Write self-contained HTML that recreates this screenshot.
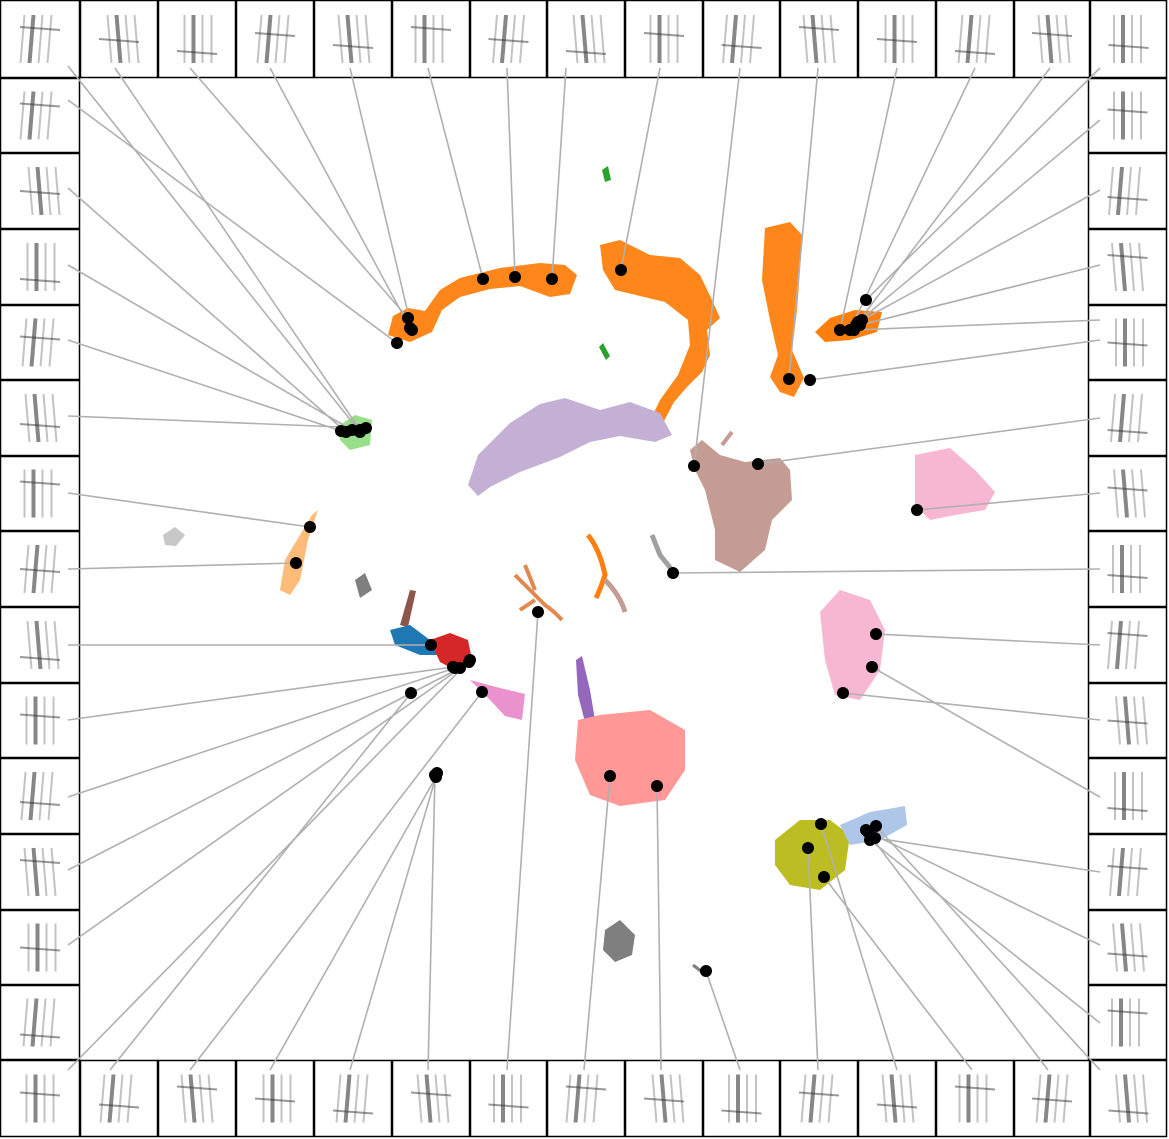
<!DOCTYPE html>
<html><head><meta charset="utf-8"><style>
html,body{margin:0;padding:0;background:#fff;}
svg{display:block;font-family:"Liberation Sans",sans-serif;}
</style></head><body>
<svg id="chart" width="1169" height="1139" viewBox="0 0 1169 1139" xmlns="http://www.w3.org/2000/svg">
<g id="clusters">
<polygon fill="#ff7f0e" opacity="0.95" points="388,335 393,316 408,308 425,311 440,290 460,278 500,268 540,263 565,265 577,275 570,294 550,297 520,286 490,289 460,297 442,310 432,332 410,342"/>
<polygon fill="#ff7f0e" opacity="0.95" points="600,245 620,240 650,255 680,258 700,275 712,300 720,318 707,330 710,355 702,372 687,387 674,402 662,425 648,425 660,400 678,375 690,345 688,320 665,302 640,296 615,290 603,270"/>
<polygon fill="#ff7f0e" opacity="0.95" points="765,228 790,222 802,235 800,270 797,310 792,350 804,378 794,397 780,392 770,377 778,355 770,320 762,280"/>
<polygon fill="#ff7f0e" points="815,332 830,318 855,310 882,312 877,332 850,340 825,342"/>
<polygon fill="#c5b0d5" points="468,485 478,455 510,423 540,404 565,398 600,410 630,402 660,413 672,435 655,442 620,436 590,442 560,457 520,472 490,487 478,496"/>
<polygon fill="#c49c94" points="690,450 702,440 720,455 745,462 780,458 790,470 792,500 772,520 765,550 740,572 715,560 715,530 705,490 695,470"/>
<polygon fill="#f7b6d2" points="915,455 950,448 975,470 995,492 985,510 955,515 930,520 915,505"/>
<polygon fill="#f7b6d2" points="820,612 840,590 870,600 885,630 880,670 860,700 835,695 825,660"/>
<polygon fill="#9467bd" points="576,660 582,656 590,690 595,720 585,722 578,695"/>
<polygon fill="#ff9896" points="578,720 600,715 650,710 685,730 685,770 665,800 620,806 590,795 575,760"/>
<polygon fill="#bcbd22" points="775,840 800,820 830,820 850,835 845,870 820,890 790,885 775,865"/>
<polygon fill="#aec7e8" points="840,825 870,812 905,806 907,825 880,840 850,845"/>
<polygon fill="#98df8a" points="340,425 355,415 372,420 370,445 350,450 340,440"/>
<polygon fill="#ffbb78" points="285,560 300,535 312,515 318,510 308,540 300,580 290,595 280,590"/>
<polygon fill="#7f7f7f" points="355,580 365,573 372,590 360,598"/>
<polygon fill="#c7c7c7" points="163,535 175,527 185,535 176,546 165,545"/>
<polygon fill="#7f7f7f" points="605,930 620,920 635,935 632,955 615,962 603,950"/>
<polygon fill="#8c564b" points="400,625 410,590 416,591 408,627"/>
<polygon fill="#1f77b4" points="390,630 410,625 430,640 440,655 420,655 395,645"/>
<polygon fill="#d62728" points="430,640 450,633 468,640 472,660 455,670 440,662"/>
<polygon fill="#e377c2" opacity="0.8" points="470,680 500,688 525,694 522,720 505,716 490,700"/>
<polygon fill="#2ca02c" points="602,170 608,166 611,180 605,182"/>
<polygon fill="#2ca02c" points="599,347 603,343 610,356 606,360"/>
<path d="M588,535 Q600,550 605,575 Q600,590 596,598" stroke="#ff7f0e" stroke-width="5" fill="none"/>
<path d="M605,580 Q620,595 625,612" stroke="#c49c94" stroke-width="5" fill="none"/>
<path d="M515,575 Q530,590 545,605 Q555,612 562,620 M525,565 L535,590 M520,610 L535,600" stroke="#e08a50" stroke-width="4" fill="none"/>
<path d="M652,535 L660,555 L672,570" stroke="#a0a0a0" stroke-width="5" fill="none"/>
<path d="M722,445 L732,432" stroke="#c49c94" stroke-width="4" fill="none"/>
<path d="M693,965 L706,975" stroke="#7f7f7f" stroke-width="3" fill="none"/>
</g>
<g id="thumbs"></g>
<g id="links"></g>
<g id="dots"></g>
</svg>
<script>
// highlighted sample positions (x, y in chart coords) and the thumbnail anchor they link to
const pointX = [360,360,408,410,412,483,515,552,621,694,789,840,850,856,866,
 397,346,352,341,366,310,296,431,453,455,460,469,470,
 411,482,436,437,435,538,610,657,706,808,821,824,866,876,
 858,862,860,854,810,758,917,673,876,843,872,875,868,870];
const pointY = [432,430,318,328,330,279,277,279,270,466,379,330,330,325,300,
 343,432,430,431,428,527,563,645,667,668,668,662,660,
 693,692,777,773,775,612,776,786,971,848,824,877,830,826,
 322,320,325,330,380,464,510,573,634,693,667,838,832,840];
const anchorX = [68,115,190,270,350,428,507,566,660,740,818,897,975,1050,1100,
 68,68,68,68,68,68,68,68,68,68,68,68,68,
 110,190,270,350,428,507,584,661,740,818,897,972,1048,1100,
 1100,1100,1100,1100,1100,1100,1100,1100,1100,1100,1100,1100,1100,1100];
const anchorY = [66,68,68,68,68,68,68,68,68,68,68,68,68,68,68,
 100,188,265,340,416,493,569,645,720,797,870,945,1070,
 1070,1070,1070,1070,1070,1070,1070,1070,1070,1070,1070,1070,1070,1070,
 120,190,265,320,340,418,493,569,645,720,797,872,945,1023];
const NS='http://www.w3.org/2000/svg';
const links=document.getElementById('links'), dots=document.getElementById('dots'), thumbs=document.getElementById('thumbs');
for(let i=0;i<pointX.length;i++){
  const l=document.createElementNS(NS,'line');
  l.setAttribute('x1',anchorX[i]);l.setAttribute('y1',anchorY[i]);
  l.setAttribute('x2',pointX[i]);l.setAttribute('y2',pointY[i]);
  l.setAttribute('stroke','#b0b0b0');l.setAttribute('stroke-width','1.6');
  
  
  links.appendChild(l);
  const c=document.createElementNS(NS,'circle');
  c.setAttribute('cx',pointX[i]);c.setAttribute('cy',pointY[i]);c.setAttribute('r','6');c.setAttribute('fill','#000');
  
  
  dots.appendChild(c);
}
// thumbnail frames
const boxes=[];
const topEdges=[0,80,158,236,314,392,470,547,625,703,780,858,936,1014,1090,1167];
for(let i=0;i<15;i++){boxes.push([topEdges[i],0,topEdges[i+1]-topEdges[i],78]);boxes.push([topEdges[i],1060,topEdges[i+1]-topEdges[i],77]);}
const sideEdges=[78,153,229,305,380,456,531,607,683,758,834,910,985,1060];
for(let i=0;i<13;i++){boxes.push([0,sideEdges[i],80,sideEdges[i+1]-sideEdges[i]]);boxes.push([1088,sideEdges[i],79,sideEdges[i+1]-sideEdges[i]]);}
boxes.forEach((b,k)=>{
  const g=document.createElementNS(NS,'g');
  
  
  const r=document.createElementNS(NS,'rect');
  r.setAttribute('x',b[0]+0.5);r.setAttribute('y',b[1]+0.5);r.setAttribute('width',b[2]-1);r.setAttribute('height',b[3]-1);
  r.setAttribute('fill','#fff');r.setAttribute('stroke','#000');r.setAttribute('stroke-width','1.5');
  g.appendChild(r);
  const cx=b[0]+b[2]/2, cy=b[1]+b[3]/2;
  for(let s=0;s<4;s++){
    const p=document.createElementNS(NS,'line');
    const ox=(s-1.5)*9+((k*7)%5)-2;
    p.setAttribute('x1',cx+ox);p.setAttribute('y1',cy-24);
    p.setAttribute('x2',cx+ox+((k%3)-1)*4);p.setAttribute('y2',cy+24);
    p.setAttribute('stroke','#555');p.setAttribute('stroke-width',s==1?'4':'2');p.setAttribute('opacity',s==1?'0.7':'0.35');
    g.appendChild(p);
  }
  const h=document.createElementNS(NS,'line');
  h.setAttribute('x1',cx-20);h.setAttribute('y1',cy+((k%5)-2)*6);h.setAttribute('x2',cx+20);h.setAttribute('y2',cy+((k%5)-2)*6+3);
  h.setAttribute('stroke','#333');h.setAttribute('stroke-width','2');h.setAttribute('opacity','0.5');
  g.appendChild(h);
  thumbs.appendChild(g);
});
</script>
</body></html>
